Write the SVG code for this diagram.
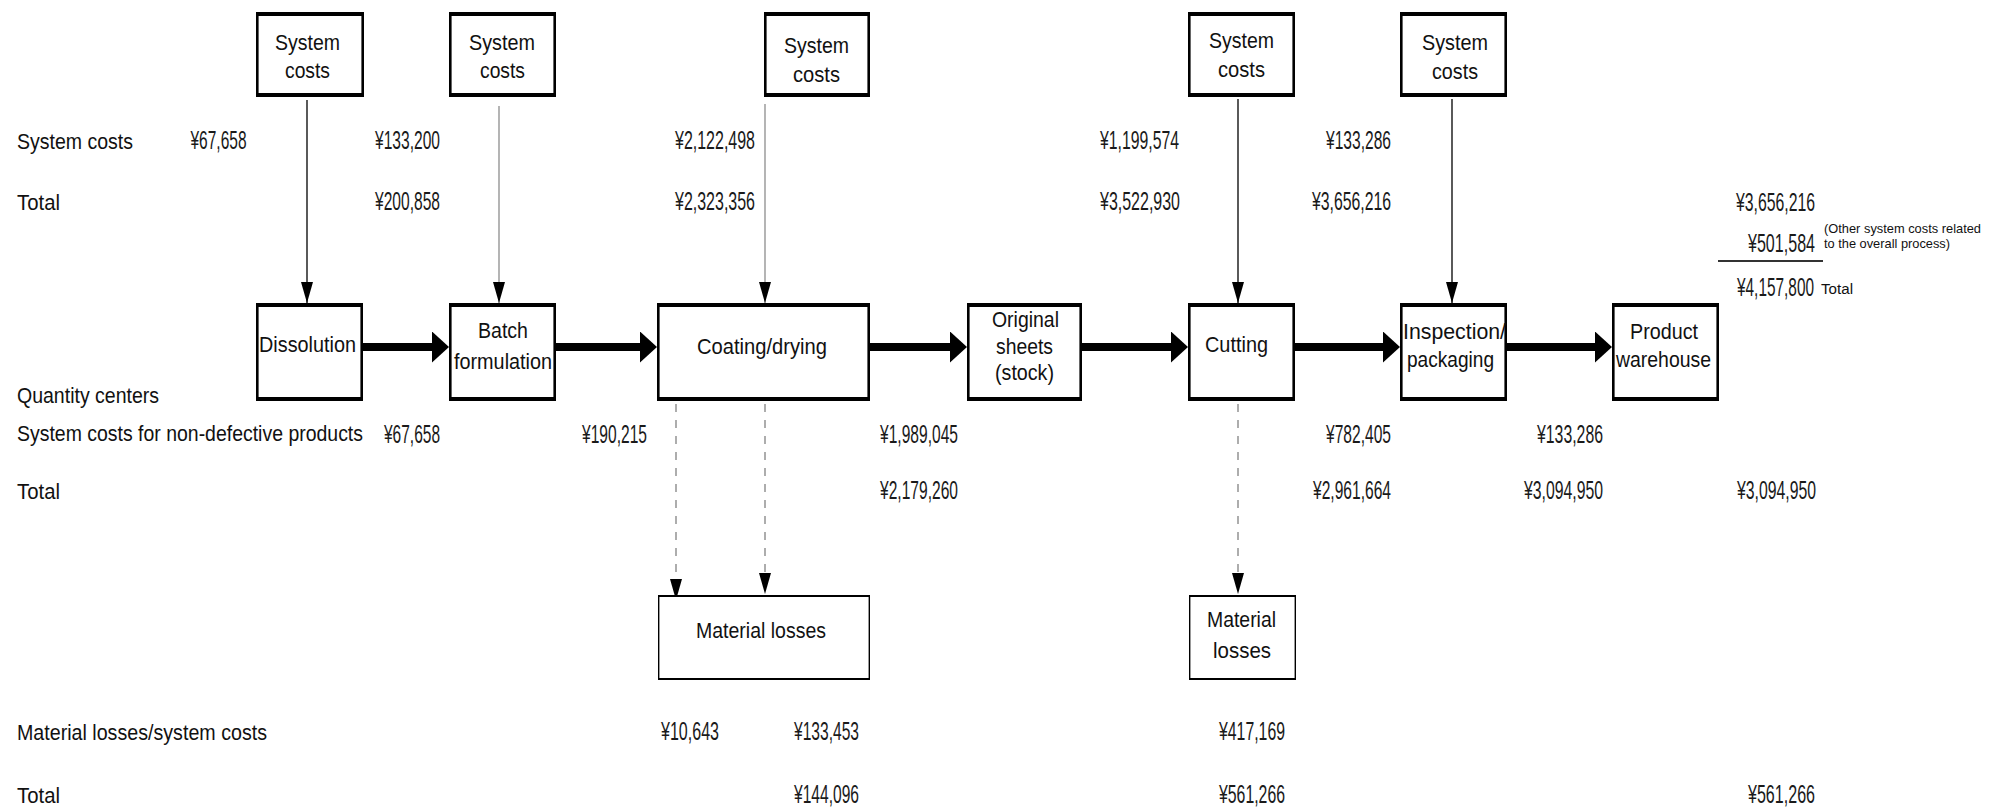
<svg xmlns="http://www.w3.org/2000/svg" width="1989" height="807" viewBox="0 0 1989 807">
  <style>
    text { font-family: "Liberation Sans", Arial, sans-serif; fill: #111; }
    .lbl { font-size: 22px; }
    .num { font-size: 25px; fill: #1a1a1a; }
    .sm { font-size: 14px; }
    .note { font-size: 13px; }
    .frame { fill: #fff; stroke: #000; stroke-width: 2.6; }
    .rule { stroke: #000; stroke-width: 4.2; }
    .frame-lt { fill: #fff; stroke: #000; stroke-width: 1.4; }
    .rule-lt { stroke: #000; stroke-width: 2.2; }
    .feed { stroke: #000; stroke-width: 1.3; fill: none; }
    .feed-grey { stroke: #777; stroke-width: 1.1; fill: none; }
    .flow { stroke: #000; stroke-width: 8; fill: none; }
    .loss { stroke: #777; stroke-width: 1.2; stroke-dasharray: 8 8; fill: none; }
  </style>
  <defs>
    <marker id="head-thin" markerUnits="userSpaceOnUse" markerWidth="21" markerHeight="12" refX="21" refY="6" orient="auto">
      <path d="M0,0 L21,6 L0,12 Z" fill="#000"/>
    </marker>
    <marker id="head-thick" markerUnits="userSpaceOnUse" markerWidth="17" markerHeight="31" refX="7" refY="15.5" orient="auto">
      <path d="M0,0 L17,15.5 L0,31 Z" fill="#000"/>
    </marker>
  </defs>

  <rect width="1989" height="807" fill="#fff"/>

  <!-- connectors -->
  <g id="connectors">
    <!-- cost feeds into the process steps -->
    <line class="feed" x1="307" y1="100" x2="307" y2="303" marker-end="url(#head-thin)"/>
    <line class="feed-grey" x1="499" y1="106" x2="499" y2="303" marker-end="url(#head-thin)"/>
    <line class="feed-grey" x1="765" y1="104" x2="765" y2="303" marker-end="url(#head-thin)"/>
    <line class="feed" x1="1238" y1="99" x2="1238" y2="303" marker-end="url(#head-thin)"/>
    <line class="feed" x1="1452" y1="99" x2="1452" y2="303" marker-end="url(#head-thin)"/>
    <!-- main material flow -->
    <line class="flow" x1="363" y1="347" x2="439" y2="347" marker-end="url(#head-thick)"/>
    <line class="flow" x1="555" y1="347" x2="647" y2="347" marker-end="url(#head-thick)"/>
    <line class="flow" x1="863" y1="347" x2="957" y2="347" marker-end="url(#head-thick)"/>
    <line class="flow" x1="1082" y1="347" x2="1178" y2="347" marker-end="url(#head-thick)"/>
    <line class="flow" x1="1295" y1="347" x2="1390" y2="347" marker-end="url(#head-thick)"/>
    <line class="flow" x1="1507" y1="347" x2="1602" y2="347" marker-end="url(#head-thick)"/>
    <!-- losses -->
    <line class="loss" x1="676" y1="404" x2="676" y2="600" marker-end="url(#head-thin)"/>
    <line class="loss" x1="765" y1="404" x2="765" y2="594" marker-end="url(#head-thin)"/>
    <line class="loss" x1="1238" y1="404" x2="1238" y2="594" marker-end="url(#head-thin)"/>
  </g>

  <!-- system cost sources -->
  <g id="cost-dissolution">
    <rect class="frame" x="257.3" y="14" width="105.4" height="81"/>
    <line class="rule" x1="256" y1="14" x2="364" y2="14"/>
    <line class="rule" x1="256" y1="95" x2="364" y2="95"/>
    <text class="lbl" x="275" y="50" textLength="65" lengthAdjust="spacingAndGlyphs">System</text>
    <text class="lbl" x="285" y="78" textLength="45" lengthAdjust="spacingAndGlyphs">costs</text>
  </g>
  <g id="cost-batch">
    <rect class="frame" x="450.3" y="14" width="104.4" height="81"/>
    <line class="rule" x1="449" y1="14" x2="556" y2="14"/>
    <line class="rule" x1="449" y1="95" x2="556" y2="95"/>
    <text class="lbl" x="469" y="50" textLength="66" lengthAdjust="spacingAndGlyphs">System</text>
    <text class="lbl" x="480" y="78" textLength="45" lengthAdjust="spacingAndGlyphs">costs</text>
  </g>
  <g id="cost-coating">
    <rect class="frame" x="765.3" y="14" width="103.4" height="81"/>
    <line class="rule" x1="764" y1="14" x2="870" y2="14"/>
    <line class="rule" x1="764" y1="95" x2="870" y2="95"/>
    <text class="lbl" x="784" y="53" textLength="65" lengthAdjust="spacingAndGlyphs">System</text>
    <text class="lbl" x="793" y="82" textLength="47" lengthAdjust="spacingAndGlyphs">costs</text>
  </g>
  <g id="cost-cutting">
    <rect class="frame" x="1189.3" y="14" width="104.4" height="81"/>
    <line class="rule" x1="1188" y1="14" x2="1295" y2="14"/>
    <line class="rule" x1="1188" y1="95" x2="1295" y2="95"/>
    <text class="lbl" x="1209" y="48" textLength="65" lengthAdjust="spacingAndGlyphs">System</text>
    <text class="lbl" x="1218" y="77" textLength="47" lengthAdjust="spacingAndGlyphs">costs</text>
  </g>
  <g id="cost-inspection">
    <rect class="frame" x="1401.3" y="14" width="104.4" height="81"/>
    <line class="rule" x1="1400" y1="14" x2="1507" y2="14"/>
    <line class="rule" x1="1400" y1="95" x2="1507" y2="95"/>
    <text class="lbl" x="1422" y="50" textLength="66" lengthAdjust="spacingAndGlyphs">System</text>
    <text class="lbl" x="1432" y="79" textLength="46" lengthAdjust="spacingAndGlyphs">costs</text>
  </g>

  <!-- process steps -->
  <g id="dissolution">
    <rect class="frame" x="257.3" y="305" width="104.4" height="94"/>
    <line class="rule" x1="256" y1="305" x2="363" y2="305"/>
    <line class="rule" x1="256" y1="399" x2="363" y2="399"/>
    <text class="lbl" x="259" y="352" textLength="97" lengthAdjust="spacingAndGlyphs">Dissolution</text>
  </g>
  <g id="batch-formulation">
    <rect class="frame" x="450.3" y="305" width="104.4" height="94"/>
    <line class="rule" x1="449" y1="305" x2="556" y2="305"/>
    <line class="rule" x1="449" y1="399" x2="556" y2="399"/>
    <text class="lbl" x="478" y="338" textLength="50" lengthAdjust="spacingAndGlyphs">Batch</text>
    <text class="lbl" x="454" y="369" textLength="98" lengthAdjust="spacingAndGlyphs">formulation</text>
  </g>
  <g id="coating-drying">
    <rect class="frame" x="658.3" y="305" width="210.4" height="94"/>
    <line class="rule" x1="657" y1="305" x2="870" y2="305"/>
    <line class="rule" x1="657" y1="399" x2="870" y2="399"/>
    <text class="lbl" x="697" y="354" textLength="130" lengthAdjust="spacingAndGlyphs">Coating/drying</text>
  </g>
  <g id="original-sheets">
    <rect class="frame" x="968.3" y="305" width="112.4" height="94"/>
    <line class="rule" x1="967" y1="305" x2="1082" y2="305"/>
    <line class="rule" x1="967" y1="399" x2="1082" y2="399"/>
    <text class="lbl" x="992" y="327" textLength="67" lengthAdjust="spacingAndGlyphs">Original</text>
    <text class="lbl" x="996" y="354" textLength="57" lengthAdjust="spacingAndGlyphs">sheets</text>
    <text class="lbl" x="995" y="380" textLength="59" lengthAdjust="spacingAndGlyphs">(stock)</text>
  </g>
  <g id="cutting">
    <rect class="frame" x="1189.3" y="305" width="104.4" height="94"/>
    <line class="rule" x1="1188" y1="305" x2="1295" y2="305"/>
    <line class="rule" x1="1188" y1="399" x2="1295" y2="399"/>
    <text class="lbl" x="1205" y="352" textLength="63" lengthAdjust="spacingAndGlyphs">Cutting</text>
  </g>
  <g id="inspection-packaging">
    <rect class="frame" x="1401.3" y="305" width="104.4" height="94"/>
    <line class="rule" x1="1400" y1="305" x2="1507" y2="305"/>
    <line class="rule" x1="1400" y1="399" x2="1507" y2="399"/>
    <text class="lbl" x="1403" y="339" textLength="103" lengthAdjust="spacingAndGlyphs">Inspection/</text>
    <text class="lbl" x="1407" y="367" textLength="87" lengthAdjust="spacingAndGlyphs">packaging</text>
  </g>
  <g id="product-warehouse">
    <rect class="frame" x="1613.3" y="305" width="104.4" height="94"/>
    <line class="rule" x1="1612" y1="305" x2="1719" y2="305"/>
    <line class="rule" x1="1612" y1="399" x2="1719" y2="399"/>
    <text class="lbl" x="1630" y="339" textLength="68" lengthAdjust="spacingAndGlyphs">Product</text>
    <text class="lbl" x="1616" y="367" textLength="95" lengthAdjust="spacingAndGlyphs">warehouse</text>
  </g>

  <!-- loss sinks -->
  <g id="losses-coating">
    <rect class="frame-lt" x="658.7" y="596" width="210.6" height="83"/>
    <line class="rule-lt" x1="658" y1="596" x2="870" y2="596"/>
    <line class="rule-lt" x1="658" y1="679" x2="870" y2="679"/>
    <text class="lbl" x="696" y="638" textLength="130" lengthAdjust="spacingAndGlyphs">Material losses</text>
  </g>
  <g id="losses-cutting">
    <rect class="frame-lt" x="1189.7" y="596" width="105.6" height="83"/>
    <line class="rule-lt" x1="1189" y1="596" x2="1296" y2="596"/>
    <line class="rule-lt" x1="1189" y1="679" x2="1296" y2="679"/>
    <text class="lbl" x="1207" y="627" textLength="69" lengthAdjust="spacingAndGlyphs">Material</text>
    <text class="lbl" x="1213" y="658" textLength="58" lengthAdjust="spacingAndGlyphs">losses</text>
  </g>

  <!-- row headings -->
  <g id="row-labels">
    <text class="lbl" x="17" y="149" textLength="116" lengthAdjust="spacingAndGlyphs">System costs</text>
    <text class="lbl" x="17" y="210" textLength="43" lengthAdjust="spacingAndGlyphs">Total</text>
    <text class="lbl" x="17" y="403" textLength="142" lengthAdjust="spacingAndGlyphs">Quantity centers</text>
    <text class="lbl" x="17" y="441" textLength="346" lengthAdjust="spacingAndGlyphs">System costs for non-defective products</text>
    <text class="lbl" x="17" y="499" textLength="43" lengthAdjust="spacingAndGlyphs">Total</text>
    <text class="lbl" x="17" y="740" textLength="250" lengthAdjust="spacingAndGlyphs">Material losses/system costs</text>
    <text class="lbl" x="17" y="803" textLength="43" lengthAdjust="spacingAndGlyphs">Total</text>
  </g>

  <!-- cost figures -->
  <g id="figures">
    <!-- system costs -->
    <text class="num" x="190.5" y="149" textLength="56" lengthAdjust="spacingAndGlyphs">¥67,658</text>
    <text class="num" x="375" y="149" textLength="65" lengthAdjust="spacingAndGlyphs">¥133,200</text>
    <text class="num" x="675" y="149" textLength="80" lengthAdjust="spacingAndGlyphs">¥2,122,498</text>
    <text class="num" x="1100" y="149" textLength="79" lengthAdjust="spacingAndGlyphs">¥1,199,574</text>
    <text class="num" x="1326" y="149" textLength="65" lengthAdjust="spacingAndGlyphs">¥133,286</text>
    <!-- running totals -->
    <text class="num" x="375" y="210" textLength="65" lengthAdjust="spacingAndGlyphs">¥200,858</text>
    <text class="num" x="675" y="210" textLength="80" lengthAdjust="spacingAndGlyphs">¥2,323,356</text>
    <text class="num" x="1100" y="210" textLength="80" lengthAdjust="spacingAndGlyphs">¥3,522,930</text>
    <text class="num" x="1312" y="210" textLength="79" lengthAdjust="spacingAndGlyphs">¥3,656,216</text>
    <text class="num" x="1736" y="211" textLength="79" lengthAdjust="spacingAndGlyphs">¥3,656,216</text>
    <!-- overall summary -->
    <text class="num" x="1748" y="252" textLength="67" lengthAdjust="spacingAndGlyphs">¥501,584</text>
    <line x1="1718" y1="261" x2="1823" y2="261" stroke="#333" stroke-width="2"/>
    <text class="num" x="1737" y="296" textLength="77" lengthAdjust="spacingAndGlyphs">¥4,157,800</text>
    <text class="sm" x="1821" y="294" textLength="32" lengthAdjust="spacingAndGlyphs">Total</text>
    <text class="note" x="1824" y="233" textLength="157" lengthAdjust="spacingAndGlyphs">(Other system costs related</text>
    <text class="note" x="1824" y="248" textLength="126" lengthAdjust="spacingAndGlyphs">to the overall process)</text>
    <!-- non-defective products -->
    <text class="num" x="384" y="443" textLength="56" lengthAdjust="spacingAndGlyphs">¥67,658</text>
    <text class="num" x="582" y="443" textLength="65" lengthAdjust="spacingAndGlyphs">¥190,215</text>
    <text class="num" x="880" y="443" textLength="78" lengthAdjust="spacingAndGlyphs">¥1,989,045</text>
    <text class="num" x="1326" y="443" textLength="65" lengthAdjust="spacingAndGlyphs">¥782,405</text>
    <text class="num" x="1537" y="443" textLength="66" lengthAdjust="spacingAndGlyphs">¥133,286</text>
    <text class="num" x="880" y="499" textLength="78" lengthAdjust="spacingAndGlyphs">¥2,179,260</text>
    <text class="num" x="1313" y="499" textLength="78" lengthAdjust="spacingAndGlyphs">¥2,961,664</text>
    <text class="num" x="1524" y="499" textLength="79" lengthAdjust="spacingAndGlyphs">¥3,094,950</text>
    <text class="num" x="1737" y="499" textLength="79" lengthAdjust="spacingAndGlyphs">¥3,094,950</text>
    <!-- material losses -->
    <text class="num" x="661" y="740" textLength="58" lengthAdjust="spacingAndGlyphs">¥10,643</text>
    <text class="num" x="794" y="740" textLength="65" lengthAdjust="spacingAndGlyphs">¥133,453</text>
    <text class="num" x="1219" y="740" textLength="66" lengthAdjust="spacingAndGlyphs">¥417,169</text>
    <text class="num" x="794" y="803" textLength="65" lengthAdjust="spacingAndGlyphs">¥144,096</text>
    <text class="num" x="1219" y="803" textLength="66" lengthAdjust="spacingAndGlyphs">¥561,266</text>
    <text class="num" x="1748" y="803" textLength="67" lengthAdjust="spacingAndGlyphs">¥561,266</text>
  </g>
</svg>
